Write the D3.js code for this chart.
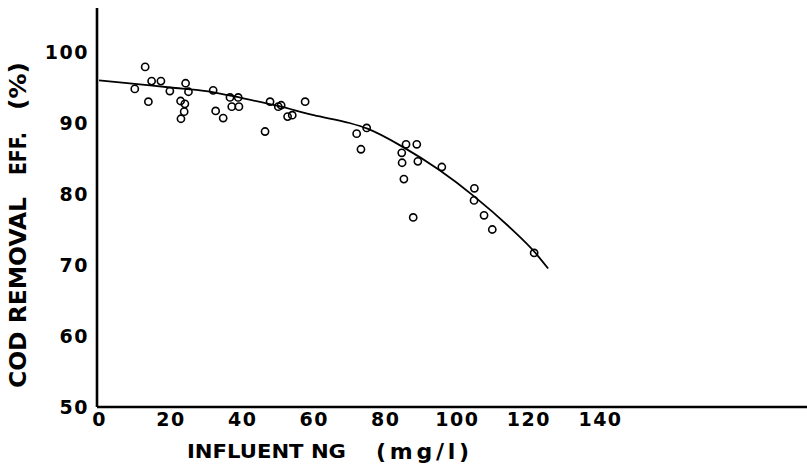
<!DOCTYPE html>
<html>
<head>
<meta charset="utf-8">
<script src="https://cdn.jsdelivr.net/npm/d3@7"></script>
<style>
body { margin: 0; background: #fff; }
text { font-family: "DejaVu Sans", sans-serif; font-weight: bold; fill: #000; }
</style>
</head>
<body>
<div></div>
<script>
var width = 807,
    height = 469;

// influent NG (mg/l) vs COD removal efficiency (%)
var influentNG = [10, 12.9, 13.8, 14.7, 17.3, 19.8, 22.8, 24.0, 23.8, 22.9, 24.2, 25.0,
    31.9, 32.6, 34.7, 36.6, 38.9, 37.1, 39.1, 46.4, 47.8, 50.1, 50.9, 52.7, 54.0, 57.6,
    72.0, 74.8, 73.2, 85.8, 88.8, 84.6, 84.7, 89.1, 85.2, 87.8, 95.8, 104.9, 104.8,
    107.6, 109.9, 121.6];
var codEff = [94.8, 97.9, 93.0, 95.9, 95.9, 94.5, 93.1, 92.7, 91.6, 90.6, 95.6, 94.4,
    94.6, 91.7, 90.7, 93.6, 93.6, 92.3, 92.3, 88.8, 93.0, 92.3, 92.5, 90.9, 91.1, 93.0,
    88.5, 89.3, 86.3, 87.0, 87.0, 85.8, 84.4, 84.6, 82.1, 76.7, 83.8, 80.8, 79.1,
    77.0, 75.0, 71.7];

// fitted curve
var curveX = [0, 10, 20, 30, 40, 50, 60, 70, 75, 85, 95, 105, 115, 121.6, 125.5];
var curveY = [96.0, 95.5, 95.0, 94.5, 93.5, 92.4, 91.1, 90.0, 89.2, 86.6, 83.4, 79.6, 75.2, 71.9, 69.5];

var xTicks = [0, 20, 40, 60, 80, 100, 120, 140];
var yTicks = [50, 60, 70, 80, 90, 100];

var svg = d3.select("div")
    .append("svg")
    .attr("width", width)
    .attr("height", height);

var x = d3.scaleLinear().domain([0, 140]).range([99, 600]);
var y = d3.scaleLinear().domain([50, 100]).range([407, 52]);

// axis lines: x runs off to the right edge, y goes up past 100
svg.append("line")
    .attr("x1", x(0) - 2).attr("x2", width)
    .attr("y1", y(50)).attr("y2", y(50))
    .attr("stroke", "#000").attr("stroke-width", 2.6);
svg.append("line")
    .attr("x1", x(0) - 2).attr("x2", x(0) - 2)
    .attr("y1", 8).attr("y2", y(50))
    .attr("stroke", "#000").attr("stroke-width", 2.6);

var xAxis = svg.append("g")
    .attr("transform", "translate(0," + y(50) + ")")
    .call(d3.axisBottom(x).tickValues(xTicks).tickSize(0).tickPadding(6));
xAxis.select(".domain").remove();
xAxis.selectAll("text")
    .attr("font-size", 19)
    .attr("font-family", null)
    .attr("letter-spacing", 1.5);

var yAxis = svg.append("g")
    .attr("transform", "translate(" + (x(0) - 2) + ",0)")
    .call(d3.axisLeft(y).tickValues(yTicks).tickSize(0).tickPadding(8));
yAxis.select(".domain").remove();
yAxis.selectAll("text")
    .attr("font-size", 19)
    .attr("font-family", null)
    .attr("letter-spacing", 1.5);

var line = d3.line()
    .x(function (d) { return x(d[0]); })
    .y(function (d) { return y(d[1]); })
    .curve(d3.curveMonotoneX);

svg.append("path")
    .datum(d3.zip(curveX, curveY))
    .attr("fill", "none")
    .attr("stroke", "#000")
    .attr("stroke-width", 1.8)
    .attr("d", line);

svg.append("g")
    .selectAll("circle")
    .data(d3.zip(influentNG, codEff))
    .enter().append("circle")
    .attr("cx", function (d) { return x(d[0]); })
    .attr("cy", function (d) { return y(d[1]); })
    .attr("r", 3.6)
    .attr("fill", "none")
    .attr("stroke", "#000")
    .attr("stroke-width", 1.6);

// axis titles
svg.append("text")
    .attr("x", 187).attr("y", 458)
    .attr("font-size", 20)
    .attr("textLength", 159).attr("lengthAdjust", "spacingAndGlyphs")
    .text("INFLUENT NG");
svg.append("text")
    .attr("x", 376).attr("y", 459)
    .attr("font-size", 22)
    .attr("textLength", 93).attr("lengthAdjust", "spacing")
    .text("(mg/l)");

var yTitle = [
    {t: "COD REMOVAL", from: 388, to: 197},
    {t: "EFF.", from: 175, to: 132},
    {t: "(%)", from: 110, to: 62}
];
svg.append("g")
    .selectAll("text")
    .data(yTitle)
    .enter().append("text")
    .attr("transform", function (d) { return "translate(26," + d.from + ") rotate(-90)"; })
    .attr("font-size", 23)
    .attr("textLength", function (d) { return d.from - d.to; })
    .attr("lengthAdjust", "spacingAndGlyphs")
    .text(function (d) { return d.t; });
</script>
</body>
</html>
